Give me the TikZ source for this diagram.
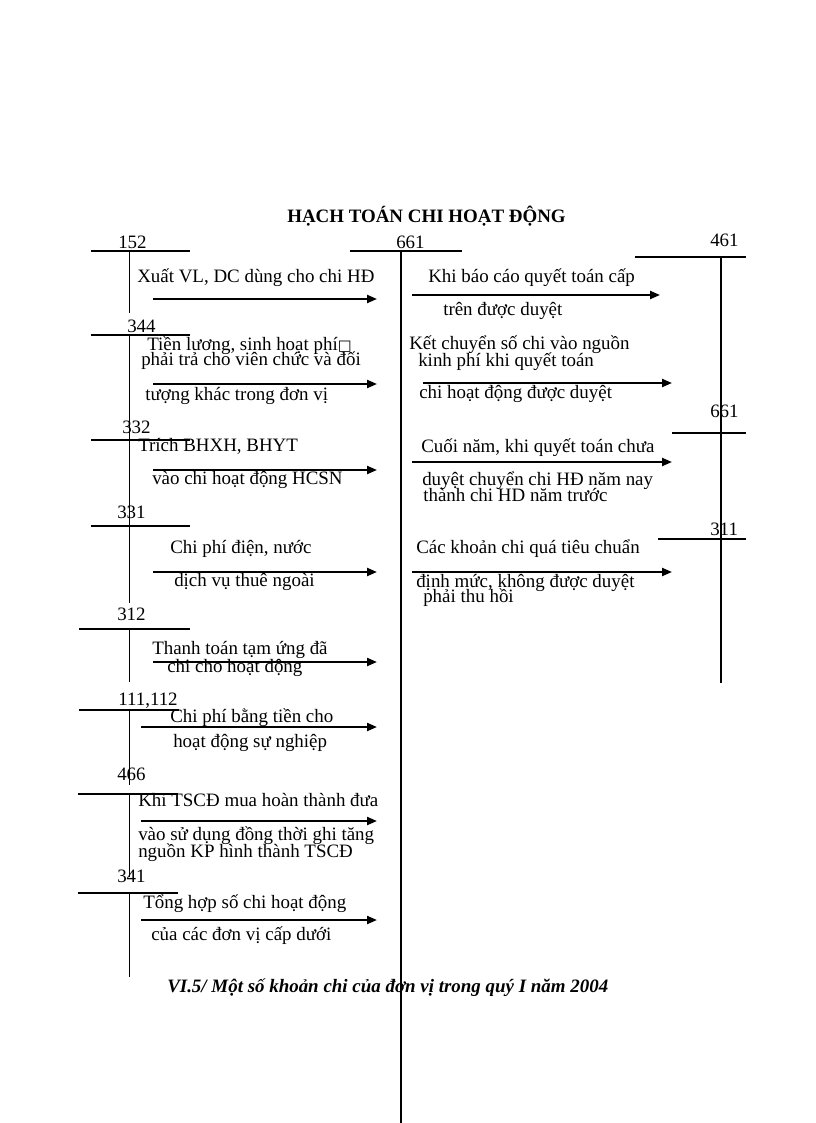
\documentclass[tikz,border=0pt]{standalone}
\usepackage{fontspec}
\setmainfont{Liberation Serif}
\newfontfamily\boxfont{DejaVu Sans}
\usetikzlibrary{arrows.meta}
\begin{document}
\begin{tikzpicture}[x=0.75pt,y=-0.75pt,
  txt/.style={anchor=base west,inner sep=0pt,font=\fontsize{14.2}{16}\selectfont},
  ttl/.style={anchor=base west,inner sep=0pt,font=\fontsize{14.2}{16}\selectfont\bfseries},
  captxt/.style={anchor=base west,inner sep=0pt,font=\fontsize{14.2}{16}\selectfont\bfseries\itshape},
  bar/.style={line width=1.3pt},
  stem/.style={line width=1pt},
  mainstem/.style={line width=1.5pt},
  arr/.style={line width=1.6pt,-{Triangle[length=7.5pt,width=6pt]}}]
\useasboundingbox (0,0) rectangle (816,1123);

% title and caption
\node[ttl] (title) at (287,223) {HẠCH TOÁN CHI HOẠT ĐỘNG};
\node[captxt] (caption) at (167,992) {VI.5/ Một số khoản chi của đơn vị trong quý I năm 2004};

% account labels
\node[txt] (n152) at (118,248) {152};
\node[txt] (n661) at (396,248) {661};
\node[txt] (n461) at (710,247) {461};
\node[txt] (n344) at (127,332) {344};
\node[txt] (n332) at (122,433) {332};
\node[txt] (n331) at (117,518) {331};
\node[txt] (n312) at (117,620) {312};
\node[txt] (n111) at (118,705) {111,112};
\node[txt] (n466) at (117,780) {466};
\node[txt] (n341) at (117,882) {341};
\node[txt] (n661b) at (710,417) {661};
\node[txt] (n311) at (710,535) {311};

% T-accounts, left
\coordinate (a152l) at (91,251); \coordinate (a152r) at (190,251);
\coordinate (a152t) at (129.5,251); \coordinate (a152b) at (129.5,313);
\coordinate (a344l) at (91,335); \coordinate (a344r) at (190,335);
\coordinate (a344t) at (129.5,335); \coordinate (a344b) at (129.5,440);
\coordinate (a332l) at (91,440); \coordinate (a332r) at (190,440);
\coordinate (a332t) at (129.5,440); \coordinate (a332b) at (129.5,526);
\coordinate (a331l) at (91,526); \coordinate (a331r) at (190,526);
\coordinate (a331t) at (129.5,526); \coordinate (a331b) at (129.5,603);
\coordinate (a312l) at (79,629); \coordinate (a312r) at (190,629);
\coordinate (a312t) at (129.5,629); \coordinate (a312b) at (129.5,682);
\coordinate (a111l) at (79,710); \coordinate (a111r) at (179,710);
\coordinate (a111t) at (129.5,710); \coordinate (a111b) at (129.5,785);
\coordinate (a466l) at (78,794); \coordinate (a466r) at (178,794);
\coordinate (a466t) at (129.5,794); \coordinate (a466b) at (129.5,877);
\coordinate (a341l) at (78,893); \coordinate (a341r) at (178,893);
\coordinate (a341t) at (129.5,893); \coordinate (a341b) at (129.5,977);
\foreach \a in {152,344,332,331,312,111,466,341}{
  \draw[bar] (a\a l) -- (a\a r);
  \draw[stem] (a\a t) -- (a\a b);
}

% middle 661
\coordinate (m661l) at (350,251); \coordinate (m661r) at (462,251);
\coordinate (m661t) at (401,251); \coordinate (m661b) at (401,1123);
\draw[bar] (m661l) -- (m661r);
\draw[mainstem] (m661t) -- (m661b);

% right accounts
\coordinate (r461l) at (635,257); \coordinate (r461r) at (746,257);
\coordinate (r461t) at (721,257); \coordinate (r461b) at (721,683);
\draw[bar] (r461l) -- (r461r);
\draw[stem] (r461t) -- (r461b);
\coordinate (r661l) at (672,433); \coordinate (r661r) at (746,433);
\draw[line width=0.8pt] (r661l) -- (r661r);
\coordinate (r311l) at (658,539); \coordinate (r311r) at (746,539);
\draw[bar] (r311l) -- (r311r);

% arrows left
\coordinate (L1s) at (153,299); \coordinate (L1e) at (377,299);
\coordinate (L2s) at (153,384); \coordinate (L2e) at (377,384);
\coordinate (L3s) at (153,470); \coordinate (L3e) at (377,470);
\coordinate (L4s) at (153,572); \coordinate (L4e) at (377,572);
\coordinate (L5s) at (153,662); \coordinate (L5e) at (377,662);
\coordinate (L6s) at (141,727); \coordinate (L6e) at (377,727);
\coordinate (L7s) at (141,821); \coordinate (L7e) at (377,821);
\coordinate (L8s) at (141,920); \coordinate (L8e) at (377,920);
% arrows right
\coordinate (R1s) at (412,295); \coordinate (R1e) at (660,295);
\coordinate (R2s) at (423,383); \coordinate (R2e) at (672,383);
\coordinate (R3s) at (412,462); \coordinate (R3e) at (672,462);
\coordinate (R4s) at (412,572); \coordinate (R4e) at (672,572);
\foreach \k in {L1,L2,L3,L4,L5,L6,L7,L8,R1,R2,R3,R4}{
  \draw[arr] (\k s) -- (\k e);
}

% left texts
\node[txt] (L1a) at (137,282) {Xuất VL, DC dùng cho chi HĐ};
\node[txt] (L2a) at (147,350) {Tiền lương, sinh hoạt phí{\boxfont\fontsize{11}{12}\selectfont □}};
\node[txt] (L2b) at (141,365) {phải trả cho viên chức và đối};
\node[txt] (L2c) at (145,400) {tượng khác trong đơn vị};
\node[txt] (L3a) at (138,451) {Trích BHXH, BHYT};
\node[txt] (L3b) at (152,484) {vào chi hoạt động HCSN};
\node[txt] (L4a) at (170,553) {Chi phí điện, nước};
\node[txt] (L4b) at (174,586) {dịch vụ thuê ngoài};
\node[txt] (L5a) at (152,654) {Thanh toán tạm ứng đã};
\node[txt] (L5b) at (167,672) {chi cho hoạt động};
\node[txt] (L6a) at (170,722) {Chi phí bằng tiền cho};
\node[txt] (L6b) at (173,747) {hoạt động sự nghiệp};
\node[txt] (L7a) at (138,806) {Khi TSCĐ mua hoàn thành đưa};
\node[txt] (L7b) at (138,840) {vào sử dụng đồng thời ghi tăng};
\node[txt] (L7c) at (138,857) {nguồn KP hình thành TSCĐ};
\node[txt] (L8a) at (143,908) {Tổng hợp số chi hoạt động};
\node[txt] (L8b) at (151,940) {của các đơn vị cấp dưới};

% right texts
\node[txt] (R1a) at (428,282) {Khi báo cáo quyết toán cấp};
\node[txt] (R1b) at (443,315) {trên được duyệt};
\node[txt] (R2a) at (409,349) {Kết chuyển số chi vào nguồn};
\node[txt] (R2b) at (418,366) {kinh phí khi quyết toán};
\node[txt] (R2c) at (419,398) {chi hoạt động được duyệt};
\node[txt] (R3a) at (421,452) {Cuối năm, khi quyết toán chưa};
\node[txt] (R3b) at (422,485) {duyệt chuyển chi HĐ năm nay};
\node[txt] (R3c) at (423,501) {thành chi HD năm trước};
\node[txt] (R4a) at (416,553) {Các khoản chi quá tiêu chuẩn};
\node[txt] (R4b) at (416,587) {định mức, không được duyệt};
\node[txt] (R4c) at (423,602) {phải thu hồi};
\end{tikzpicture}
\end{document}
